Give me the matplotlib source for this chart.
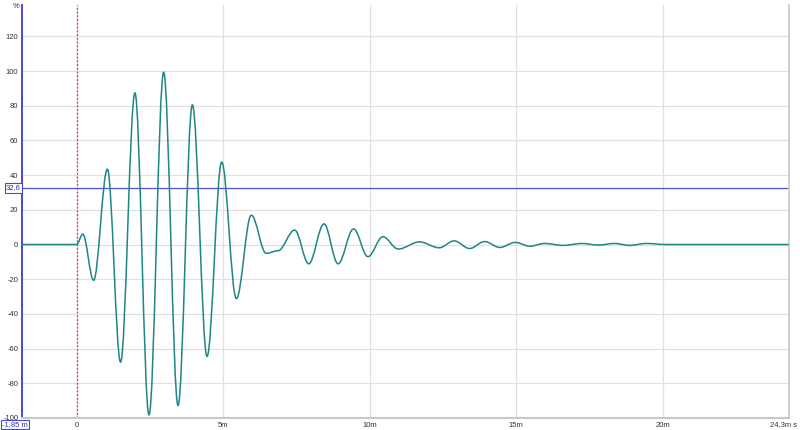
import numpy as np
import matplotlib.pyplot as plt
from matplotlib.path import Path
from matplotlib.patches import PathPatch

plt.rcParams['font.family'] = ['Liberation Sans', 'DejaVu Sans']
plt.rcParams['axes.unicode_minus'] = False

# Impulse response turning points (time in ms, level in %)
t_ms = [-1.85, 0.0, 0.21, 0.58, 1.05, 1.50, 1.99, 2.47, 2.97, 3.46, 3.95,
        4.45, 4.95, 5.45, 5.96, 6.47, 6.87, 7.44, 7.92, 8.44, 8.92, 9.45,
        9.94, 10.45, 10.97, 11.70, 12.37, 12.88, 13.41, 13.92, 14.44, 14.97,
        15.46, 15.97, 16.60, 17.25, 17.80, 18.36, 18.87, 19.44, 20.10, 24.3]
level = [0, 0, 6.0, -20.6, 43.4, -67.8, 87.4, -98.2, 99.3, -92.8, 80.5,
         -64.5, 47.5, -31.2, 16.9, -5.1, -3.6, 8.3, -11.1, 11.9, -11.1, 9.0,
         -7.0, 4.5, -2.6, 1.5, -1.9, 2.1, -2.3, 1.7, -1.7, 1.2,
         -1.0, 0.6, -0.5, 0.6, -0.3, 0.6, -0.5, 0.6, 0, 0]

cursor_level = 32.6
y_ticks = [-100, -80, -60, -40, -20, 0, 20, 40, 60, 80, 100, 120]
x_ticks = [0, 5, 10, 15, 20]
x_tick_labels = ["0", "5m", "10m", "15m", "20m"]

fig = plt.figure(figsize=(8, 4.3), dpi=100)
ax = fig.add_axes([0.028, 0.028, 0.958, 0.96])
ax.set_xlim(-1.85, 24.3)
ax.set_ylim(-100, 138)

# smooth trace: cubic bezier between turning points, flat tangents
verts = [(t_ms[0], level[0])]
codes = [Path.MOVETO]
for i in range(len(t_ms) - 1):
    dt = t_ms[i + 1] - t_ms[i]
    verts += [(t_ms[i] + 0.36 * dt, level[i]),
              (t_ms[i + 1] - 0.36 * dt, level[i + 1]),
              (t_ms[i + 1], level[i + 1])]
    codes += [Path.CURVE4] * 3
ax.add_patch(PathPatch(Path(verts, codes), fill=False, edgecolor="#1f8585",
                       lw=1.1, zorder=3))

ax.set_yticks(y_ticks)
ax.set_xticks(x_ticks)
ax.set_xticklabels(x_tick_labels)
ax.grid(color="#e0e0e0", lw=0.9)
ax.tick_params(length=0, labelsize=5.5, colors="#333333", pad=3)

ax.axvline(0, color="#ff2a2a", ls=(0, (1.5, 1.5)), lw=0.9, zorder=2)
ax.axhline(cursor_level, color="#5050e0", lw=0.9, zorder=2)

ax.spines["top"].set_visible(False)
ax.spines["left"].set_color("#4a4ad0")
ax.spines["left"].set_linewidth(1.4)
ax.spines["bottom"].set_color("#c8c8c8")
ax.spines["bottom"].set_linewidth(1.5)
ax.spines["right"].set_color("#c8c8c8")
ax.spines["right"].set_linewidth(1.2)

box = dict(boxstyle="square,pad=0.15", fc="white", ec="#4a4ad0", lw=0.8)
ax.text(-0.002, cursor_level, "32,6", transform=ax.get_yaxis_transform(),
        ha="right", va="center", fontsize=5.5, color="#3030c0", bbox=box)
fig.text(0.003, 0.012, "-1,85 m", ha="left", va="center", fontsize=5.5,
         color="#3030c0", bbox=box)
fig.text(0.996, 0.012, "24,3m s", ha="right", va="center", fontsize=5.5,
         color="#333333")
fig.text(0.016, 0.993, "%", ha="left", va="top", fontsize=5.5,
         color="#333333")

fig.savefig("out.png", dpi=100)
